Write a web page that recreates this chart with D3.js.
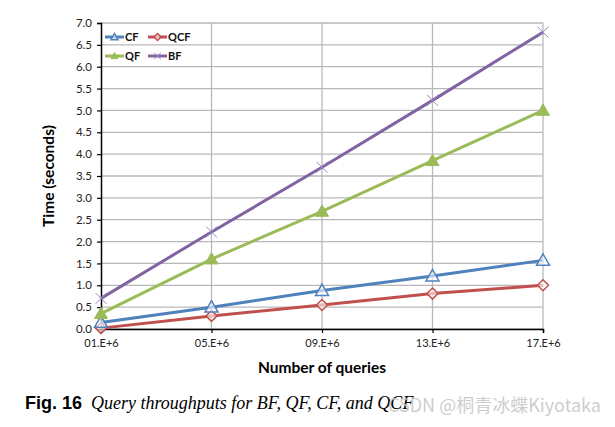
<!DOCTYPE html>
<html><head><meta charset="utf-8">
<script src="https://cdn.jsdelivr.net/npm/d3@7"></script>
<style>body{margin:0;background:#fff;}svg{display:block;}</style>
</head><body>
<svg id="c" width="615" height="427"></svg>
<script>
const categories = ["01.E+6","05.E+6","09.E+6","13.E+6","17.E+6"];
const yTicks = [0,0.5,1,1.5,2,2.5,3,3.5,4,4.5,5,5.5,6,6.5,7];
const cfValues  = [0.15, 0.50, 0.88, 1.21, 1.57];
const qcfValues = [0.02, 0.30, 0.55, 0.81, 1.00];
const qfValues  = [0.35, 1.60, 2.69, 3.85, 5.00];
const bfValues  = [0.70, 2.22, 3.70, 5.23, 6.79];
const seriesNames = ["CF","QCF","QF","BF"];

const series = [
  {name:"CF", values:cfValues, color:"#4F81BD", marker:"triOpen"},
  {name:"QCF", values:qcfValues, color:"#C0504D", marker:"diamond"},
  {name:"QF", values:qfValues, color:"#9BBB59", marker:"triFill"},
  {name:"BF", values:bfValues, color:"#8064A2", marker:"x"}
];

const svg = d3.select("#c");
const L=101, R=543, T=23, B=329;
const x = d3.scalePoint().domain(categories).range([L,R]);
const y = d3.scaleLinear().domain([0,7]).range([B,T]);

// gridlines
svg.append("g").selectAll("line").data(yTicks).join("line")
  .attr("x1",L).attr("x2",R).attr("y1",d=>y(d)).attr("y2",d=>y(d))
  .attr("stroke","#b8b8b8").attr("stroke-width",1.3);
svg.append("g").selectAll("line").data(categories.slice(1)).join("line")
  .attr("x1",d=>x(d)).attr("x2",d=>x(d)).attr("y1",T).attr("y2",B)
  .attr("stroke","#b8b8b8").attr("stroke-width",1.3);

// axes
const yAxis = d3.axisLeft(y).tickValues(yTicks).tickFormat(d3.format(".1f")).tickSize(4).tickPadding(5);
const gy = svg.append("g").attr("transform",`translate(${L},0)`).call(yAxis);
const xAxis = d3.axisBottom(x).tickSize(4).tickPadding(6);
const gx = svg.append("g").attr("transform",`translate(0,${B})`).call(xAxis);
[gy,gx].forEach(g=>{
  g.select(".domain").attr("stroke","#000").attr("stroke-width",1.5);
  g.selectAll(".tick line").attr("stroke","#000").attr("stroke-width",1.2);
  g.selectAll("text").attr("font-family","Lato, 'Open Sans', sans-serif").attr("font-size",11.5).attr("fill","#222");
});
gx.selectAll(".tick text").attr("font-size",11);

// axis titles
svg.append("text").attr("x",322).attr("y",373).attr("text-anchor","middle")
  .attr("font-family","Lato, 'Open Sans', sans-serif").attr("font-weight","bold").attr("font-size",15.5)
  .text("Number of queries");
svg.append("text").attr("transform","translate(54,176) rotate(-90)").attr("text-anchor","middle")
  .attr("font-family","Lato, 'Open Sans', sans-serif").attr("font-weight","bold").attr("font-size",15.5)
  .text("Time (seconds)");

function drawMarker(g, type, cx, cy, color, s){
  if(type==="triOpen"){
    g.append("path").attr("d",`M${cx},${cy-s}L${cx+s},${cy+s*0.75}L${cx-s},${cy+s*0.75}Z`)
      .attr("fill","#fff").attr("fill-opacity",0.6).attr("stroke",color).attr("stroke-width",1.5);
  } else if(type==="triFill"){
    g.append("path").attr("d",`M${cx},${cy-s}L${cx+s},${cy+s*0.75}L${cx-s},${cy+s*0.75}Z`)
      .attr("fill",color).attr("stroke",color).attr("stroke-width",1);
  } else if(type==="diamond"){
    g.append("path").attr("d",`M${cx},${cy-s}L${cx+s},${cy}L${cx},${cy+s}L${cx-s},${cy}Z`)
      .attr("fill","#fff").attr("fill-opacity",0.6).attr("stroke",color).attr("stroke-width",1.5);
  } else if(type==="x"){
    g.append("path").attr("d",`M${cx-s},${cy-s}L${cx+s},${cy+s}M${cx-s},${cy+s}L${cx+s},${cy-s}`)
      .attr("stroke","#9d88c0").attr("stroke-width",1);
  }
}

const line = d3.line().x((d,i)=>x(categories[i])).y(d=>y(d));
const drawOrder = ["QCF","CF","QF","BF"];
drawOrder.forEach(n=>{
  const s = series.find(e=>e.name===n);
  const g = svg.append("g");
  g.append("path").attr("d",line(s.values)).attr("fill","none").attr("stroke",s.color).attr("stroke-width",3);
  s.values.forEach((v,i)=>{
    const sz = s.marker==="x"?5.5:(s.marker==="diamond"?5.5:6.5);
    drawMarker(g, s.marker, x(categories[i]), y(v), s.color, sz);
  });
});

// legend
const legPos = [[105,37],[148,37],[105,56],[148,56]];
seriesNames.forEach((n,i)=>{
  const s = series.find(e=>e.name===n);
  const [lx,ly] = legPos[i];
  const g = svg.append("g");
  g.append("line").attr("x1",lx).attr("x2",lx+19).attr("y1",ly).attr("y2",ly).attr("stroke",s.color).attr("stroke-width",3);
  drawMarker(g, s.marker, lx+9.5, ly, s.color, 3.5);
  g.append("text").attr("x",lx+20).attr("y",ly+4).attr("font-family","Lato, 'Open Sans', sans-serif")
    .attr("font-weight","bold").attr("font-size",11).attr("fill","#111").text(n);
});

// caption
const cap = svg.append("text").attr("x",25).attr("y",409);
cap.append("tspan").attr("font-family","'Liberation Sans', Arial, sans-serif").attr("font-weight","bold").attr("font-size",18).text("Fig. 16");
cap.append("tspan").attr("dx",9).attr("font-family","'Liberation Serif', 'Times New Roman', serif").attr("font-style","italic").attr("font-size",18).text("Query throughputs for BF, QF, CF, and QCF");

// watermark
svg.append("text").attr("x",601).attr("y",412).attr("text-anchor","end")
  .attr("font-family","'Noto Sans CJK SC', 'Noto Sans', sans-serif").attr("font-size",18)
  .attr("fill","#c4c4c4").attr("fill-opacity",0.85).text("CSDN @桐青冰蝶Kiyotaka");
</script>
</body></html>
